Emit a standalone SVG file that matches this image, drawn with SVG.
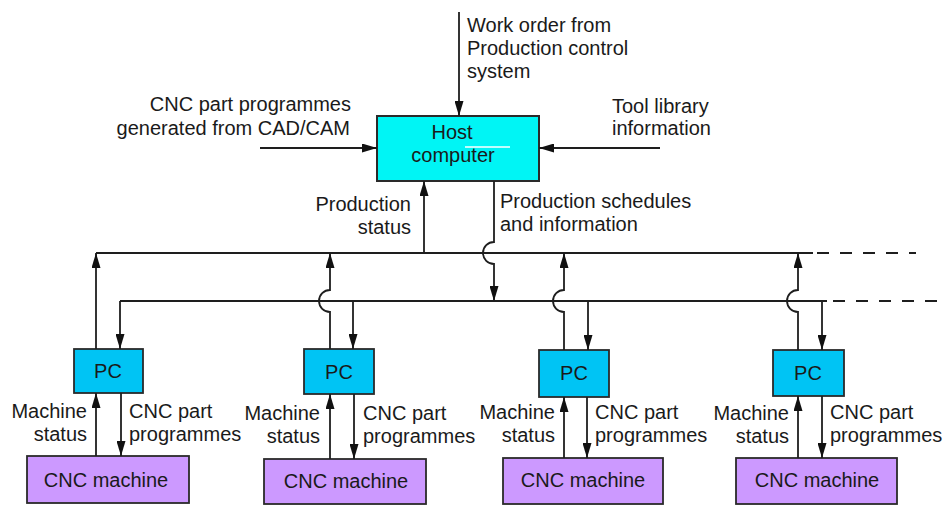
<svg xmlns="http://www.w3.org/2000/svg" width="944" height="505" viewBox="0 0 944 505">
<defs>
<marker id="ah" markerUnits="userSpaceOnUse" markerWidth="16" markerHeight="9" refX="15" refY="4.5" orient="auto">
<path d="M0,0 L15,4.5 L0,9 z" fill="#111"/>
</marker>
<style>
text{font-family:"Liberation Sans",Arial,sans-serif;font-size:20px;fill:#1a1a1a}
.c line,.c path{stroke:#1e1e1e;stroke-width:1.8;fill:none}
.a{marker-end:url(#ah)}
.d{stroke-dasharray:12 11}
.host{fill:#00f5f5;stroke:#2a2a2a;stroke-width:2}
.pc{fill:#00c4f4;stroke:#2a2a2a;stroke-width:1.8}
.cnc{fill:#cc99ff;stroke:#2a2a2a;stroke-width:1.8}
.m{text-anchor:middle}
.e{text-anchor:end}
</style>
</defs>
<rect width="944" height="505" fill="#fff"/>

<g id="host">
<rect class="host" x="377" y="116" width="162" height="65"/>
<text class="m" x="452" y="139">Host</text>
<text class="m" x="453" y="162">computer</text>
<line x1="465" y1="147" x2="510" y2="147" stroke="#fff" stroke-width="1.5"/>
</g>

<g id="pc1"><rect class="pc" x="74" y="349" width="69" height="44"/><text class="m" x="108" y="378">PC</text></g>
<g id="pc2"><rect class="pc" x="304" y="349" width="70" height="45"/><text class="m" x="339" y="379">PC</text></g>
<g id="pc3"><rect class="pc" x="539" y="350" width="70" height="47"/><text class="m" x="574" y="380">PC</text></g>
<g id="pc4"><rect class="pc" x="773" y="350" width="71" height="46"/><text class="m" x="808" y="380">PC</text></g>

<g id="cnc1"><rect class="cnc" x="27" y="456" width="162" height="47"/><text class="m" x="106" y="487">CNC machine</text></g>
<g id="cnc2"><rect class="cnc" x="264" y="459" width="162" height="45"/><text class="m" x="346" y="488">CNC machine</text></g>
<g id="cnc3"><rect class="cnc" x="503" y="458" width="160" height="46"/><text class="m" x="583" y="487">CNC machine</text></g>
<g id="cnc4"><rect class="cnc" x="736" y="458" width="161" height="46"/><text class="m" x="817" y="487">CNC machine</text></g>

<g id="connectors" class="c">
<line class="a" x1="459" y1="12" x2="459" y2="116"/>
<line class="a" x1="260" y1="148" x2="377" y2="148"/>
<line class="a" x1="660" y1="148" x2="539" y2="148"/>
<line class="a" x1="424" y1="253" x2="424" y2="181"/>
<path class="a" d="M494,181 V242 A11,11 0 0 0 494,264 V301"/>
<line x1="96" y1="253" x2="813" y2="253"/>
<line class="d" x1="817" y1="253" x2="916" y2="253"/>
<line x1="120" y1="301" x2="827" y2="301"/>
<line class="d" x1="833" y1="301" x2="940" y2="301"/>
<line class="a" x1="96" y1="349" x2="96" y2="253"/>
<line class="a" x1="120" y1="301" x2="120" y2="349"/>
<path class="a" d="M330,349 V312 A11,11 0 0 1 330,290 V253"/>
<line class="a" x1="353" y1="301" x2="353" y2="349"/>
<path class="a" d="M564,350 V312 A11,11 0 0 1 564,290 V253"/>
<line class="a" x1="588" y1="301" x2="588" y2="350"/>
<path class="a" d="M798,350 V312 A11,11 0 0 1 798,290 V253"/>
<line class="a" x1="822" y1="301" x2="822" y2="350"/>
<line class="a" x1="96" y1="456" x2="96" y2="393"/>
<line class="a" x1="121" y1="393" x2="121" y2="456"/>
<line class="a" x1="330" y1="459" x2="330" y2="394"/>
<line class="a" x1="354" y1="394" x2="354" y2="459"/>
<line class="a" x1="564" y1="458" x2="564" y2="397"/>
<line class="a" x1="587" y1="397" x2="587" y2="458"/>
<line class="a" x1="798" y1="458" x2="798" y2="396"/>
<line class="a" x1="822" y1="396" x2="822" y2="458"/>
</g>

<g id="labels">
<text x="467" y="32">Work order from</text>
<text x="467" y="55">Production control</text>
<text x="467" y="78">system</text>
<text class="e" x="351" y="111">CNC part programmes</text>
<text class="e" x="350" y="135">generated from CAD/CAM</text>
<text x="612" y="113">Tool library</text>
<text x="612" y="135">information</text>
<text class="e" x="411" y="211">Production</text>
<text class="e" x="411" y="234">status</text>
<text x="500" y="208">Production schedules</text>
<text x="500" y="231">and information</text>
<text class="e" x="87" y="418">Machine</text>
<text class="e" x="87" y="441">status</text>
<text x="129" y="418">CNC part</text>
<text x="129" y="441">programmes</text>
<text class="e" x="320" y="420">Machine</text>
<text class="e" x="320" y="443">status</text>
<text x="363" y="420">CNC part</text>
<text x="363" y="443">programmes</text>
<text class="e" x="555" y="419">Machine</text>
<text class="e" x="555" y="442">status</text>
<text x="595" y="419">CNC part</text>
<text x="595" y="442">programmes</text>
<text class="e" x="789" y="420">Machine</text>
<text class="e" x="789" y="443">status</text>
<text x="830" y="419">CNC part</text>
<text x="830" y="442">programmes</text>
</g>
</svg>
